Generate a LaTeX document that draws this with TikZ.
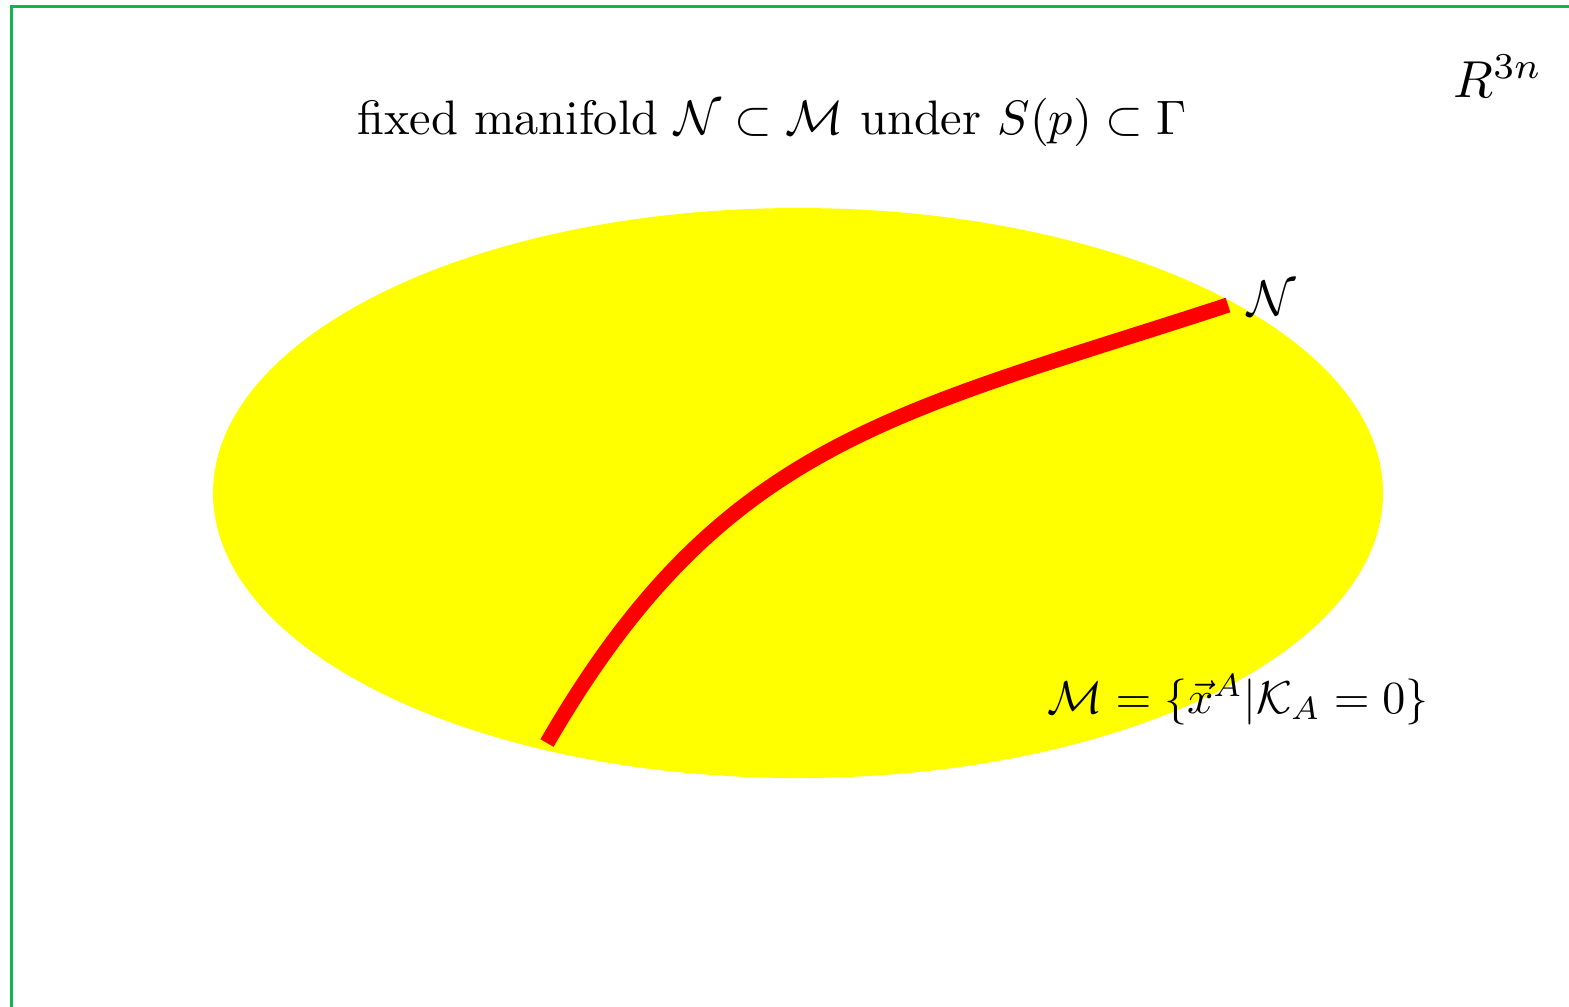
\documentclass[tikz,border=0pt]{standalone}
\usepackage{amsmath,amssymb,graphicx}
\definecolor{framegreen}{RGB}{20,178,82}
\definecolor{manyellow}{RGB}{255,255,0}
\definecolor{curvered}{RGB}{255,0,0}
\tikzset{
  lbl/.style={inner sep=0pt, anchor=base},
  framelines/.style={draw=framegreen, line width=0.6pt},
  fixedcurve/.style={draw=curvered, line width=3.05pt, line cap=butt}
}
\begin{document}
\begin{tikzpicture}[x=0.2pt,y=-0.2pt]
\useasboundingbox (0,0) rectangle (1569,1006);
\draw[framelines] (11,1010) -- (11,6) -- (1575,6);
\fill[manyellow] (798,493) ellipse [x radius=585, y radius=285];
\coordinate (s) at (547,743);
\coordinate (e) at (1228,305);
\draw[fixedcurve] (s) .. controls (722,440) and (895,414) .. (e);
\node[lbl] (title) at (772,134) {\scalebox{0.968}{fixed manifold $\mathcal{N}\subset\mathcal{M}$ under $S(p)\subset\Gamma$}};
\node[lbl] (rn) at (1498,97) {\scalebox{1.04}{$R^{3n}$}};
\node[lbl, anchor=base west] (nl) at (1246,315) {$\mathcal{N}$};
\node[lbl] (meq) at (1238,713) {\scalebox{0.92}{$\mathcal{M}=\{\vec{x}^{A}|\mathcal{K}_{A}=0\}$}};
\end{tikzpicture}
\end{document}
